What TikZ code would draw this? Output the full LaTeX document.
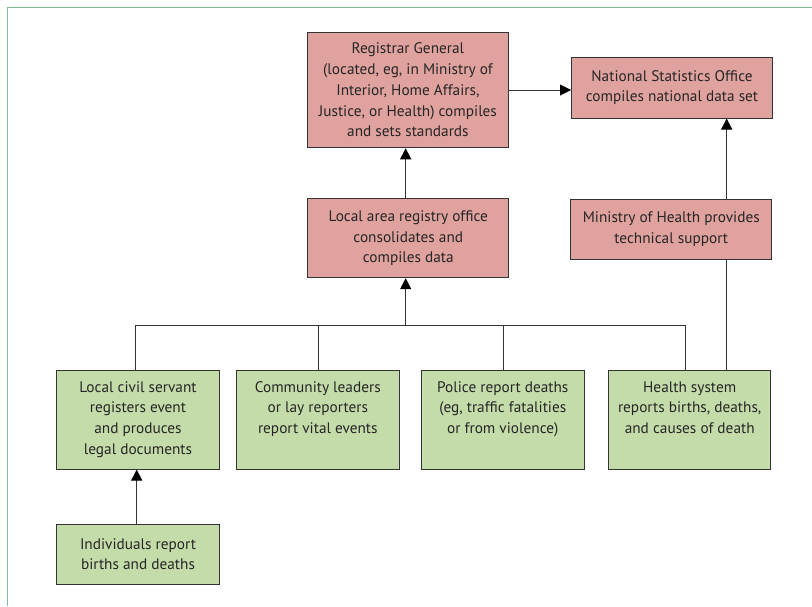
\documentclass[tikz,border=0pt]{standalone}
\usepackage{fontspec}
\setmainfont{PT Sans}
\usetikzlibrary{arrows.meta,calc}
\definecolor{pinkf}{HTML}{E0A29E}
\definecolor{greenf}{HTML}{C4DCAA}
\definecolor{framec}{HTML}{7DBF9C}
\definecolor{edgec}{HTML}{333333}
\definecolor{txtc}{HTML}{262626}
\newcommand\gtxt[1]{\parbox[t][99pt][t]{162.5pt}{\centering\rule{0pt}{22pt}#1}}
\begin{document}
\begin{tikzpicture}[x=1pt,y=-1pt,
  box/.style={draw=edgec, line width=1pt, inner sep=0pt, text=txtc,
    font=\fontsize{15.3}{20.7}\selectfont, align=center},
  pbox/.style={box, fill=pinkf},
  gbox/.style={box, fill=greenf, minimum width=162.5pt, minimum height=99pt},
  conn/.style={draw=edgec, line width=1pt},
  arr/.style={conn, -{Triangle[length=11pt,width=11pt,color=black]}}]
\useasboundingbox (0,0) rectangle (812,606);
\draw[framec, line width=1.6pt] (7.5,606) -- (7.5,7.5) -- (812,7.5);

% pink boxes
\node[pbox, minimum width=201pt, minimum height=115.5pt] (rg) at (407.9,90)
  {Registrar General\\(located, eg, in Ministry of\\Interior, Home Affairs,\\Justice, or Health) compiles\\and sets standards};
\node[pbox, minimum width=201pt, minimum height=61pt] (nso) at (672,87.5)
  {National Statistics Office\\compiles national data set};
\node[pbox, minimum width=200.7pt, minimum height=60pt] (moh) at (671.3,229)
  {Ministry of Health provides\\technical support};
\node[pbox, minimum width=201.3pt, minimum height=78.7pt] (lar) at (408.3,238.3)
  {Local area registry office\\consolidates and\\compiles data};

% green boxes
\node[gbox] (lcs) at (138,419.5)
  {\gtxt{Local civil servant\\registers event\\and produces\\legal documents}};
\node[gbox] (cl) at (317.8,419.5)
  {\gtxt{Community leaders\\or lay reporters\\report vital events}};
\node[gbox] (pol) at (502.8,419.5)
  {\gtxt{Police report deaths\\(eg, traffic fatalities\\or from violence)}};
\node[gbox] (hs) at (689.7,419.5)
  {\gtxt{Health system\\reports births, deaths,\\and causes of death}};
\node[gbox, minimum height=59.7pt] (ind) at (138,554.2)
  {Individuals report\\births and deaths};

% connectors
\coordinate (busL) at (135,325.7);
\coordinate (busR) at (685.7,325.7);
\coordinate (busM) at (405.7,325.7);
\coordinate (cldrop) at (318.3,325.7);
\coordinate (poldrop) at (503.3,325.7);
\coordinate (hsup) at (726.7,325.7);
\coordinate (indx) at (136.7,500);

\draw[arr] (rg.east) -- (rg.east -| nso.west);
\draw[arr] (moh.north -| hsup) -- (nso.south -| hsup);
\draw[conn] (hs.north -| hsup) -- (moh.south -| hsup);
\draw[arr] (lar.north -| busM) -- (rg.south -| busM);
\draw[arr] (busM) -- (lar.south -| busM);
\draw[conn] (lcs.north -| busL) -- (busL) -- (busR) -- (hs.north -| busR);
\draw[conn] (cldrop) -- (cl.north -| cldrop);
\draw[conn] (poldrop) -- (pol.north -| poldrop);
\draw[arr] (ind.north -| indx) -- (lcs.south -| indx);
\end{tikzpicture}
\end{document}
